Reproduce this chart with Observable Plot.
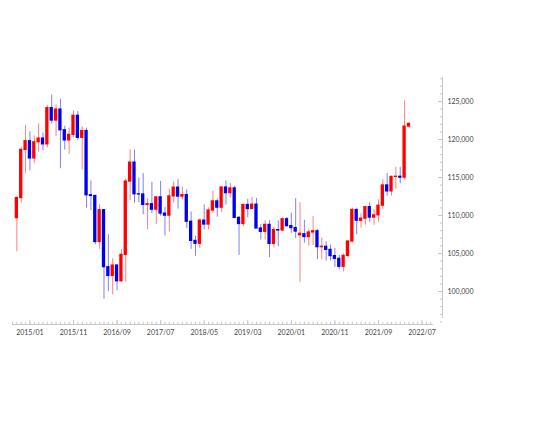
<!DOCTYPE html>
<html><head><meta charset="utf-8">
<script src="https://cdn.jsdelivr.net/npm/d3@7"></script>
<script src="https://cdn.jsdelivr.net/npm/@observablehq/plot@0.6"></script>
<style>
body{margin:0;background:#fff}
#chart{width:540px;height:432px}
</style>
</head><body><div id="chart"></div>
<script>
const firstMonth = "2014/10";
const xTickLabels = ["2015/01","2015/11","2016/09","2017/07","2018/05","2019/03","2020/01","2020/11","2021/09","2022/07"];
const yTickValues = [100,105,110,115,120,125];

const open = [109.65,112.30,118.63,119.78,117.51,119.64,120.13,119.36,124.13,122.49,
123.94,121.22,119.88,120.62,123.12,120.22,121.12,112.67,112.57,106.51,
110.70,103.20,102.05,103.42,101.35,104.82,114.47,116.96,112.79,112.77,
111.39,111.49,110.77,112.39,110.25,109.98,112.52,113.67,112.49,112.69,
109.18,106.66,106.28,109.33,108.81,110.66,111.86,111.03,113.69,112.94,
113.57,109.69,108.88,111.39,110.85,111.43,108.29,107.85,108.77,106.26,
108.08,108.03,109.51,108.61,108.35,107.40,107.54,107.17,107.77,107.93,
105.83,105.89,105.48,104.66,104.30,103.25,104.68,106.58,110.72,109.31,
109.58,111.10,109.72,110.02,111.29,113.96,113.17,115.08,115.10,114.98,
121.70];
const high = [112.47,118.98,121.85,121.00,120.48,122.03,120.84,124.46,125.86,124.58,
125.28,121.75,121.49,123.76,123.68,121.69,121.49,114.56,112.68,111.45,
110.77,107.49,104.32,103.53,105.54,114.83,118.66,118.61,114.95,115.51,
112.20,114.37,112.47,114.49,111.05,113.44,114.45,114.73,113.75,113.39,
110.48,107.29,109.56,111.40,111.00,113.18,112.16,113.70,114.55,114.21,
113.83,109.89,111.49,112.14,112.40,112.25,108.80,109.32,109.32,108.48,
109.29,109.73,109.73,110.30,112.23,111.71,109.38,108.08,109.85,108.16,
107.05,106.55,106.11,105.68,104.75,104.94,106.69,110.97,110.96,110.20,
111.11,111.66,110.80,112.08,114.70,115.52,115.20,116.35,116.34,125.10,
122.25];
const low = [105.23,111.60,115.57,115.86,116.86,118.33,118.53,118.88,122.02,120.41,
116.15,118.61,118.07,120.25,119.86,115.98,110.98,110.66,106.14,105.54,
98.99,99.99,99.54,100.09,101.21,101.19,111.97,111.59,111.69,110.11,
108.13,110.24,108.82,109.92,107.32,107.82,111.65,110.84,112.03,108.28,
105.55,104.63,105.66,108.11,108.12,110.28,109.77,110.38,111.38,112.30,
109.57,104.75,108.51,109.70,110.84,108.28,106.78,106.80,104.46,105.74,
105.89,107.90,108.42,107.65,107.00,101.18,106.36,105.99,106.07,104.19,
104.19,104.00,104.02,103.18,102.88,102.59,104.41,106.36,107.47,108.34,
108.72,109.06,108.72,109.11,110.82,112.53,112.56,113.47,114.16,114.65,
121.60];
const close = [112.30,118.63,119.78,117.51,119.64,120.13,119.36,124.13,122.49,123.94,
121.22,119.88,120.62,123.12,120.22,121.12,112.67,112.57,106.51,110.70,
103.20,102.05,103.42,101.35,104.82,114.47,116.96,112.79,112.77,111.39,
111.49,110.77,112.39,110.25,109.98,112.52,113.67,112.49,112.69,109.18,
106.66,106.28,109.33,108.81,110.66,111.86,111.03,113.69,112.94,113.57,
109.69,108.88,111.39,110.85,111.43,108.29,107.85,108.77,106.26,108.08,
108.03,109.51,108.61,108.35,107.89,107.60,107.17,107.77,107.93,105.83,
105.89,105.48,104.66,104.30,103.25,104.68,106.58,110.72,109.31,109.58,
111.10,109.72,110.02,111.29,113.96,113.17,115.08,115.10,114.98,121.70,
122.05];

const UP = "#ff0000", DOWN = "#0000f0";
const [fy, fm] = firstMonth.split("/").map(Number);
const monthIndex = s => { const [y, m] = s.split("/").map(Number); return (y - fy) * 12 + (m - fm); };
const majorX = xTickLabels.map(monthIndex);
const labelOf = new Map(xTickLabels.map(s => [monthIndex(s), s]));

const data = open.map((o, i) => ({i, o, h: high[i], l: low[i], c: close[i], up: close[i] >= o}));

const xDomain = [-1, 97.7];
const yDomain = [95.66, 128.16];
const minorX = d3.range(-1, 96);
const minorY = d3.range(96, 129);
const yfmt = d => d3.format(".3f")(d).replace(".", ",");

const chart = Plot.plot({
  width: 540, height: 432,
  marginLeft: 12, marginRight: 98, marginTop: 77, marginBottom: 108,
  style: {fontFamily: "Lato, sans-serif", fontSize: "7px", background: "#fff", color: "#444"},
  x: {domain: xDomain, axis: null, label: null},
  y: {domain: yDomain, axis: null, label: null},
  marks: [
    // axis lines
    Plot.ruleY([yDomain[0]], {x1: -1, x2: 95.6, stroke: "#c8c8c8"}),
    Plot.ruleX([xDomain[1]], {y1: 96.45, y2: yDomain[1], stroke: "#c8c8c8"}),
    // x ticks
    Plot.ruleX(minorX, {x: d => d, y1: yDomain[0], y2: yDomain[0] + 0.3, stroke: "#c8c8c8"}),
    Plot.ruleX(majorX, {x: d => d, y1: yDomain[0], y2: yDomain[0] + 0.55, stroke: "#c8c8c8"}),
    Plot.axisX({ticks: majorX, tickFormat: d => labelOf.get(d), tickSize: 0, tickPadding: 6, fill: "#444", label: null}),
    // y ticks
    Plot.ruleY(minorY, {y: d => d, x1: xDomain[1] - 0.45, x2: xDomain[1], stroke: "#c8c8c8"}),
    Plot.ruleY(yTickValues, {y: d => d, x1: xDomain[1] - 0.9, x2: xDomain[1], stroke: "#c8c8c8"}),
    Plot.axisY({anchor: "right", ticks: yTickValues, tickFormat: yfmt, tickSize: 0, tickPadding: 5, fill: "#444", label: null}),
    // wicks
    Plot.ruleX(data.filter(d => d.up), {x: "i", y1: "l", y2: "h", stroke: UP, strokeOpacity: 0.5, strokeWidth: 1}),
    Plot.ruleX(data.filter(d => !d.up), {x: "i", y1: "l", y2: "h", stroke: DOWN, strokeOpacity: 0.5, strokeWidth: 1}),
    // bodies
    Plot.rect(data.filter(d => d.up), {x1: d => d.i - 0.38, x2: d => d.i + 0.38, y1: d => Math.min(d.o, d.c), y2: d => Math.max(d.o, d.c), fill: UP, insetTop: -0.6, insetBottom: -0.6}),
    Plot.rect(data.filter(d => !d.up), {x1: d => d.i - 0.38, x2: d => d.i + 0.38, y1: d => Math.min(d.o, d.c), y2: d => Math.max(d.o, d.c), fill: DOWN, insetTop: -0.6, insetBottom: -0.6})
  ]
});
document.getElementById("chart").appendChild(chart);
</script>
</body></html>
